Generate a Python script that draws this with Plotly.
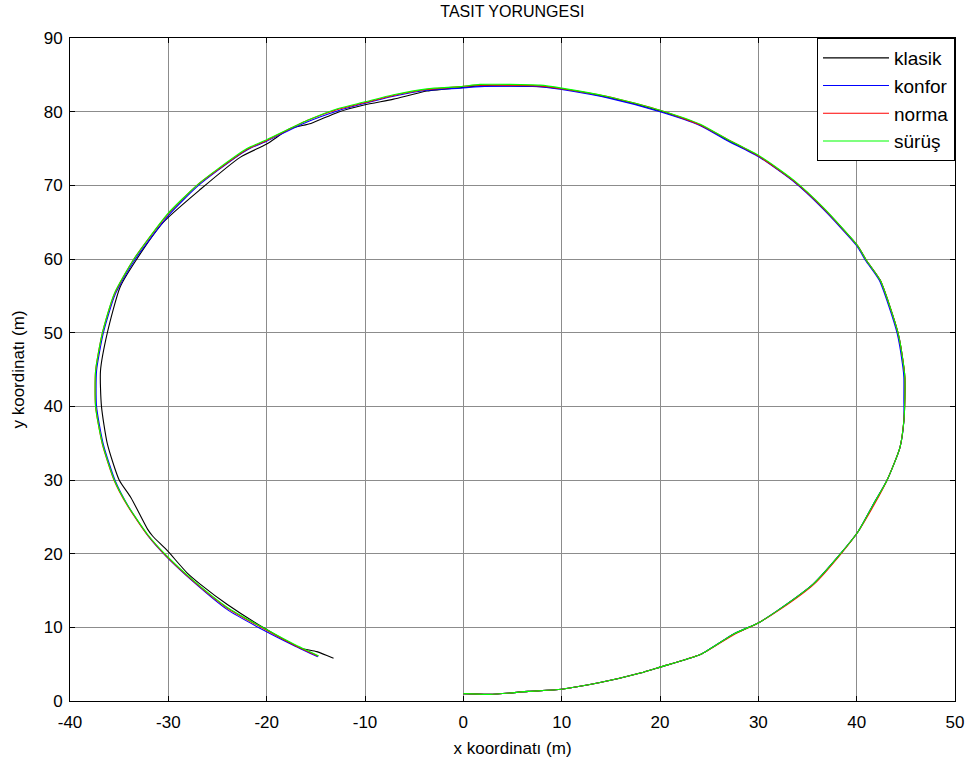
import plotly.graph_objects as go

# Trajectory data (x, y in metres)
surus_x = [0.0, 2.7, 6.6, 10.0, 13.9, 18.0, 20.0, 24.1, 27.5, 30.0, 32.2, 35.6, 38.3, 40.1, 41.7, 43.1, 44.4, 44.8,
           44.9, 44.9, 44.8, 44.2, 42.4, 41.0, 40.1, 36.6, 33.6, 30.0, 26.8, 24.1, 20.0, 14.9, 10.0, 7.8, 1.7, -0.3,
           -3.7, -7.1, -10.1, -12.8, -15.9, -20.0, -22.0, -25.0, -27.1, -30.1, -33.5, -35.5, -36.7, -37.4, -37.4,
           -36.7, -35.5, -34.2, -32.1, -30.3, -27.4, -24.0, -20.3, -17.2, -14.7]
surus_y = [1.0, 0.9, 1.3, 1.6, 2.5, 3.8, 4.6, 6.3, 9.1, 10.6, 12.5, 15.9, 19.9, 22.9, 26.7, 30.0, 34.4, 38.0,
           41.0, 43.9, 45.3, 50.0, 57.1, 59.8, 61.8, 67.0, 70.7, 74.1, 76.3, 78.3, 80.2, 82.0, 83.2, 83.6, 83.7, 83.4,
           83.1, 82.3, 81.3, 80.4, 78.8, 76.2, 75.0, 72.2, 70.0, 66.1, 60.0, 55.3, 50.0, 44.8, 40.0,
           34.9, 30.0, 26.7, 22.6, 19.9, 16.3, 12.7, 9.9, 7.7, 6.1]

norma_x = [0.0, 2.7, 6.6, 10.0, 13.9, 18.0, 20.0, 24.1, 27.5, 30.0, 32.3, 35.7, 38.3, 40.1, 41.8, 43.1, 44.4, 44.8,
           44.9, 44.9, 44.8, 44.2, 42.4, 41.0, 40.1, 36.6, 33.6, 30.0, 26.8, 24.1, 20.0, 14.9, 10.0, 7.8, 1.7, -0.3,
           -3.7, -7.1, -10.1, -12.8, -15.9, -20.0, -22.0, -25.0, -27.1, -30.1, -33.5, -35.5, -36.7, -37.4, -37.4,
           -36.7, -35.5, -34.2, -32.1, -30.3, -27.4, -24.0, -20.3, -17.2, -14.8]
norma_y = [1.0, 0.9, 1.3, 1.6, 2.5, 3.8, 4.6, 6.3, 9.0, 10.6, 12.5, 15.9, 19.8, 22.9, 26.7, 30.0, 34.4, 38.0,
           41.0, 43.9, 45.3, 50.0, 57.1, 59.8, 61.8, 66.9, 70.6, 74.0, 76.3, 78.2, 80.2, 82.0, 83.1, 83.5, 83.6, 83.4,
           83.0, 82.2, 81.2, 80.3, 78.8, 76.1, 74.9, 72.1, 70.0, 66.0, 60.0, 55.2, 50.0, 44.8, 40.0,
           34.8, 29.9, 26.6, 22.5, 19.8, 16.2, 12.6, 9.8, 7.6, 6.1]

konfor_x = [0.0, 2.7, 6.6, 10.0, 13.9, 18.0, 20.0, 24.1, 27.5, 30.0, 32.2, 35.6, 38.3, 40.1, 41.7, 43.1, 44.4, 44.8,
            44.8, 44.8, 44.7, 44.1, 42.3, 40.9, 40.0, 36.5, 33.5, 30.0, 26.8, 24.1, 20.0, 14.9, 10.0, 7.8, 1.7, -0.3,
            -3.7, -7.1, -10.1, -12.8, -15.9, -20.0, -22.0, -25.0, -27.1, -30.0, -33.4, -35.4, -36.6, -37.3, -37.3,
            -36.6, -35.4, -34.1, -32.0, -30.2, -27.3, -24.0, -20.3, -17.2, -14.8]
konfor_y = [1.0, 0.9, 1.3, 1.6, 2.5, 3.8, 4.6, 6.3, 9.1, 10.6, 12.5, 15.9, 19.9, 22.9, 26.7, 30.0, 34.4, 38.0,
            41.0, 43.9, 45.3, 50.0, 57.1, 59.8, 61.8, 66.9, 70.6, 73.9, 76.1, 78.1, 80.0, 81.8, 83.0, 83.4, 83.4, 83.2,
            82.9, 82.1, 81.1, 80.1, 78.6, 76.0, 74.8, 72.0, 69.8, 65.9, 59.9, 55.2, 50.0, 44.8, 40.0,
            34.8, 29.9, 26.5, 22.3, 19.6, 16.0, 12.4, 9.6, 7.5, 6.0]

klasik_x = [0.0, 2.7, 6.6, 10.0, 13.9, 18.0, 20.0, 24.1, 27.5, 30.0, 32.2, 35.6, 38.3, 40.1, 41.7, 43.1, 44.4, 44.8,
            44.9, 44.9, 44.8, 44.2, 42.4, 41.0, 40.1, 36.6, 33.6, 30.0, 26.8, 24.1, 20.0, 14.9, 10.0, 7.8, 1.7, 0.0,
            -3.7, -7.1, -10.1, -12.8, -15.5, -17.6, -20.0, -22.7, -26.7, -30.5, -33.3, -34.9, -36.2, -36.9, -36.8,
            -36.2, -35.0, -33.8, -32.1, -31.6, -30.1, -28.1, -26.7, -24.0, -20.0, -16.6, -14.9, -13.2]
klasik_y = [1.0, 0.9, 1.3, 1.6, 2.5, 3.8, 4.6, 6.3, 9.1, 10.6, 12.5, 15.9, 19.9, 22.9, 26.7, 30.0, 34.4, 38.0,
            41.0, 43.9, 45.3, 50.0, 57.1, 59.8, 61.8, 66.9, 70.6, 74.0, 76.2, 78.2, 80.1, 81.9, 83.1, 83.4, 83.5, 83.3,
            82.8, 81.7, 80.9, 79.9, 78.4, 77.7, 75.6, 73.8, 69.5, 65.0, 59.8, 56.2, 50.0, 44.8, 40.0,
            34.9, 30.0, 27.6, 23.3, 22.4, 20.4, 17.4, 15.8, 13.1, 9.7, 7.2, 6.7, 5.8]

series = [
    ("klasik", klasik_x, klasik_y, "#000000"),
    ("konfor", konfor_x, konfor_y, "#0000FF"),
    ("norma", norma_x, norma_y, "#FF0000"),
    ("sürüş", surus_x, surus_y, "#00FF00"),
]

x_ticks = [-40, -30, -20, -10, 0, 10, 20, 30, 40, 50]
y_ticks = [0, 10, 20, 30, 40, 50, 60, 70, 80, 90]

FONT = "Liberation Sans, Arial, sans-serif"

fig = go.Figure()
for name, xs, ys, col in series:
    fig.add_trace(go.Scatter(x=xs, y=ys, mode="lines", name=name,
                             line=dict(color=col, width=1.1, shape="spline", smoothing=0.6)))

axis_common = dict(
    showline=True, linecolor="black", linewidth=1, mirror="ticks",
    ticks="inside", ticklen=5, tickcolor="black", tickwidth=1,
    showgrid=True, gridcolor="#8c8c8c", gridwidth=1, zeroline=False,
    tickfont=dict(family=FONT, size=17, color="black"),
    automargin=False,
)

fig.update_layout(
    width=974, height=761,
    margin=dict(l=70, r=19, t=38, b=60),
    paper_bgcolor="white", plot_bgcolor="white",
    title=dict(text="TASIT YORUNGESI", x=0.526, xanchor="center", y=0.993, yanchor="top",
               font=dict(family=FONT, size=16, color="black")),
    xaxis=dict(range=[-40, 50], tickvals=x_ticks, ticktext=[str(v) for v in x_ticks],
               ticklabelstandoff=6,
               title=dict(text="x koordinatı (m)", font=dict(family=FONT, size=17, color="black"), standoff=10),
               **axis_common),
    yaxis=dict(range=[0, 90], tickvals=y_ticks, ticktext=[str(v) for v in y_ticks],
               ticklabelstandoff=3,
               title=dict(text="y koordinatı (m)", font=dict(family=FONT, size=17, color="black"), standoff=14),
               **axis_common),
    legend=dict(x=1.0, y=1.0, xanchor="right", yanchor="top", bgcolor="white",
                bordercolor="black", borderwidth=1, font=dict(family=FONT, size=19, color="black"),
                tracegroupgap=0, itemwidth=66),
    showlegend=True,
)

fig.write_html("out.html")
